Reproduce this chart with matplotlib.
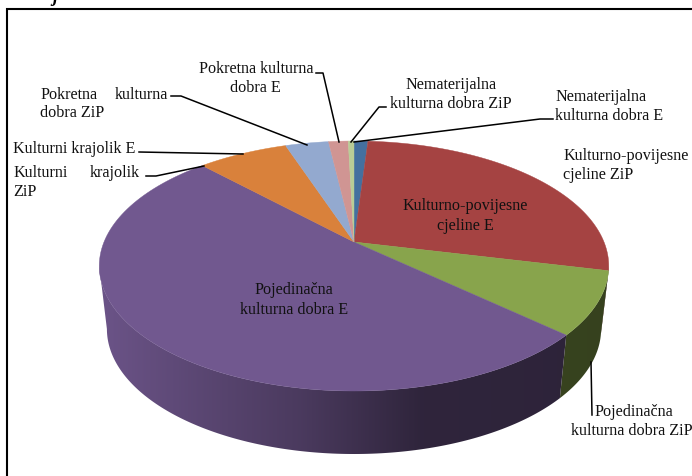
import numpy as np
import matplotlib
matplotlib.use("Agg")
import matplotlib.pyplot as plt
from matplotlib.patches import Polygon

plt.rcParams['font.family'] = ['Liberation Serif', 'DejaVu Serif']

# slices, clockwise from the top of the pie
categories = ["Nematerijalna kulturna dobra E", "Kulturno-povijesne cjeline E",
              "Pojedinacna kulturna dobra ZiP", "Pojedinacna kulturna dobra E",
              "Kulturni krajolik ZiP", "Pokretna kulturna dobra ZiP",
              "Pokretna kulturna dobra E", "Nematerijalna kulturna dobra ZiP"]
values = [1.06, 27.6, 8.1, 51.1, 6.9, 3.3, 1.5, 0.44]
colors = ["#44709f", "#a54342", "#88a44c", "#71588f",
          "#d9813b", "#93a9cf", "#d09593", "#b9cd96"]

# x, y, text, ha
labels = [
    (199, 69, "Pokretna kulturna", "left"),
    (255, 88, "dobra E", "center"),
    (40, 95, "Pokretna", "left"),
    (115, 95, "kulturna", "left"),
    (40, 113, "dobra ZiP", "left"),
    (13, 149, "Kulturni krajolik E", "left"),
    (13, 173, "Kulturni", "left"),
    (90, 173, "krajolik", "left"),
    (13, 192, "ZiP", "left"),
    (451, 85, "Nematerijalna", "center"),
    (451, 104, "kulturna dobra ZiP", "center"),
    (555, 97, "Nematerijalna", "left"),
    (555, 116, "kulturna dobra E", "left"),
    (563, 156, "Kulturno-povijesne", "left"),
    (563, 175, "cjeline ZiP", "left"),
    (465, 206, "Kulturno-povijesne", "center"),
    (465, 226, "cjeline E", "center"),
    (294, 290, "Pojedinačna", "center"),
    (294, 310, "kulturna dobra E", "center"),
    (594, 412, "Pojedinačna", "left"),
    (571, 431, "kulturna dobra ZiP", "left"),
]

# leader lines in picture pixels
leaders = [
    ([316, 323, 339], [74, 74, 143]),
    ([171, 181, 307], [97, 97, 146]),
    ([139, 243], [153, 155]),
    ([146, 156, 204], [177, 177, 167]),
    ([386, 379, 351], [108, 108, 143]),
    ([553, 540, 354], [120, 120, 143]),
    ([592, 591], [416, 363]),
]

# pie geometry, a circle seen in perspective
apex_x, apex_y = 354, 243
a, b, p = 250, 120.4, 0.192
depth = 63
bottom_scale = 0.97

# part of the rim that faces the viewer, between the left and right extremes
wall_from = np.arccos(-p)
wall_to = 2 * np.pi - wall_from


def rim(angle, lower=False):
    u = np.sin(angle)
    v = np.cos(angle)
    x = a * u / (1 + p * v)
    y = b * v / (1 + p * v)
    if lower:
        return apex_x + x * bottom_scale, apex_y - y + depth
    return apex_x + x, apex_y - y


def side_shade(x):
    return np.interp(x, [100, 200, 300, 420, 610], [0.95, 0.80, 0.66, 0.42, 0.40])


fig = plt.figure(figsize=(6.92, 4.77), dpi=100)
ax = fig.add_axes([0, 0, 1, 1])
ax.axis("off")

# frame, open at the right and bottom
ax.plot([7, 7, 692], [477, 10, 10], color="black", lw=1.5, solid_joinstyle="miter")
# bottom of a letter cut off by the top of the picture
ax.text(55, -3, "j", fontsize=13, fontweight="bold", fontstyle="italic",
        ha="center", va="center", color="black")

edges = np.cumsum([0] + values) / sum(values) * 2 * np.pi

# side wall, a horizontal gradient clipped to each slice
shade_x = np.arange(90, 620)
for i in range(len(values)):
    start = max(edges[i], wall_from)
    stop = min(edges[i + 1], wall_to)
    if stop <= start:
        continue
    t = np.linspace(start, stop, 150)
    x_up, y_up = rim(t)
    x_low, y_low = rim(t, lower=True)
    wall = Polygon(np.column_stack([np.r_[x_up, x_low[::-1]], np.r_[y_up, y_low[::-1]]]),
                   closed=True, facecolor="none", edgecolor="none")
    ax.add_patch(wall)
    base = np.array(matplotlib.colors.to_rgb(colors[i]))
    grad = base[None, None, :] * side_shade(shade_x)[None, :, None]
    im = ax.imshow(grad, extent=(90, 620, 477, 0), aspect="auto", interpolation="bilinear")
    im.set_clip_path(wall)

# top face
for i in range(len(values)):
    t = np.linspace(edges[i], edges[i + 1], 120)
    xs, ys = rim(t)
    pts = np.column_stack([np.r_[apex_x, xs], np.r_[apex_y, ys]])
    ax.add_patch(Polygon(pts, closed=True, facecolor=colors[i], edgecolor=colors[i], lw=0.3))

for xs, ys in leaders:
    ax.plot(xs, ys, color="black", lw=1.1)

for x, y, s, ha in labels:
    ax.text(x, y, s, fontsize=11.6, ha=ha, va="center", color="#111111")

ax.set_xlim(0, 692)
ax.set_ylim(477, 0)

fig.savefig("out.png", dpi=100)
